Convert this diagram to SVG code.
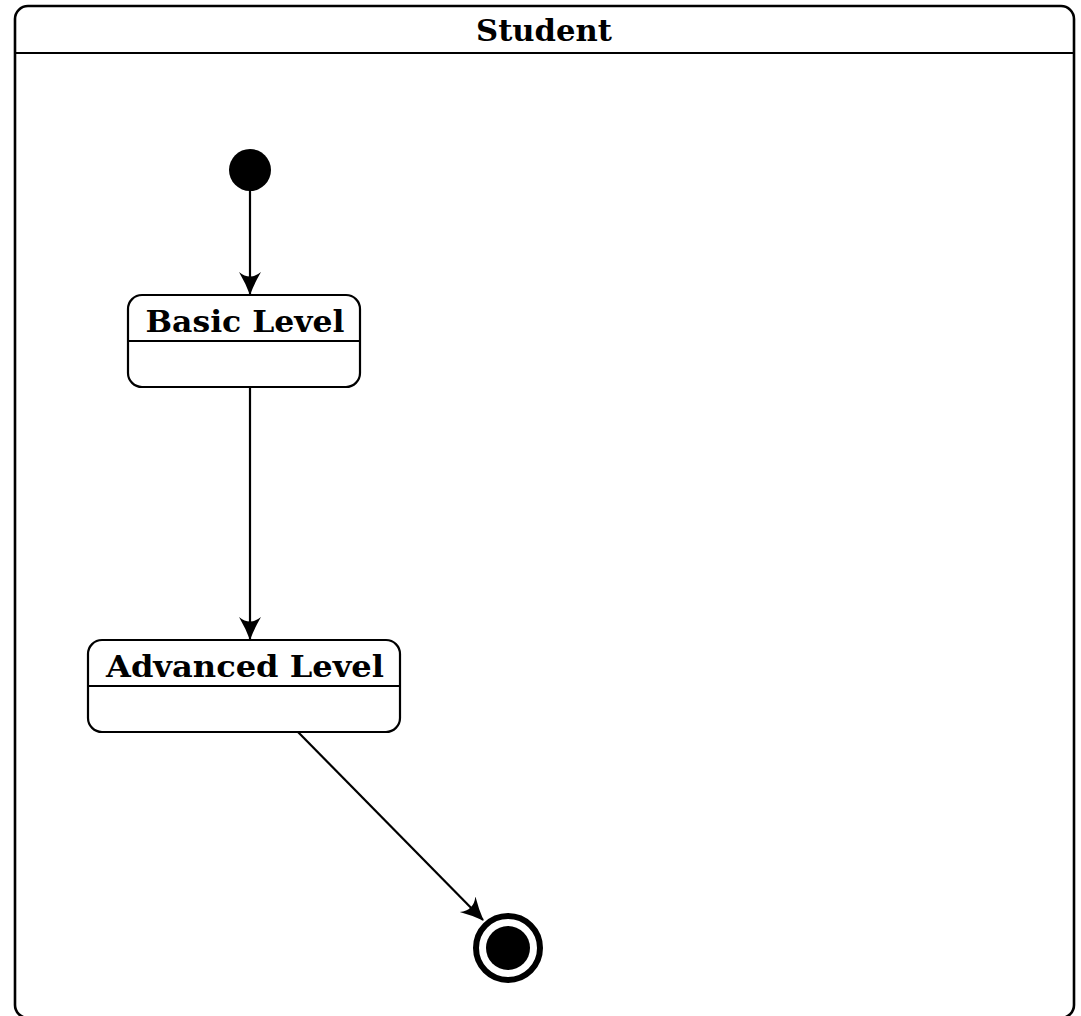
<svg xmlns="http://www.w3.org/2000/svg" width="1081" height="1016" viewBox="0 0 1081 1016">
  <style>
    .frame { fill: #fff; stroke: #000; stroke-width: 2.6; }
    .state { fill: #fff; stroke: #000; stroke-width: 2.2; }
    .sep { stroke: #000; stroke-width: 2.2; }
    .label { font-family: "DejaVu Serif", "Liberation Serif", serif; font-weight: bold; font-size: 30px; fill: #000; text-anchor: middle; }
    .edge { fill: none; stroke: #000; stroke-width: 2.2; }
  </style>
  <defs>
    <!-- barbed stealth-style arrowhead -->
    <marker id="arrow" viewBox="0 0 24 22" refX="23" refY="11" markerWidth="24" markerHeight="22" markerUnits="userSpaceOnUse" orient="auto">
      <path d="M24,11 Q13,7 1,0 Q10,11 1,22 Q13,15 24,11 Z" fill="#000"/>
    </marker>
  </defs>

  <!-- composite state frame -->
  <g id="student">
    <rect class="frame" x="15" y="6" width="1059" height="1012" rx="13" ry="13"/>
    <line class="sep" x1="15" y1="53" x2="1074" y2="53" stroke-width="2.6"/>
    <text class="label" x="544" y="41" textLength="136" lengthAdjust="spacingAndGlyphs">Student</text>
  </g>

  <!-- initial pseudo-state -->
  <g id="initial">
    <circle cx="250" cy="170" r="21" fill="#000"/>
  </g>

  <g id="basic-level">
    <rect class="state" x="128" y="295" width="232" height="92" rx="14" ry="14"/>
    <line class="sep" x1="128" y1="341" x2="360" y2="341"/>
    <text class="label" x="245" y="332" textLength="199" lengthAdjust="spacingAndGlyphs">Basic Level</text>
  </g>

  <g id="advanced-level">
    <rect class="state" x="88" y="640" width="312" height="92" rx="14" ry="14"/>
    <line class="sep" x1="88" y1="686" x2="400" y2="686"/>
    <text class="label" x="245" y="677" textLength="278" lengthAdjust="spacingAndGlyphs">Advanced Level</text>
  </g>

  <!-- final state -->
  <g id="final">
    <circle cx="508" cy="948" r="32" fill="#fff" stroke="#000" stroke-width="6"/>
    <circle cx="508" cy="948" r="22" fill="#000"/>
  </g>

  <g id="connectors">
    <line class="edge" x1="250" y1="191" x2="250" y2="294" marker-end="url(#arrow)"/>
    <line class="edge" x1="250" y1="387" x2="250" y2="639" marker-end="url(#arrow)"/>
    <line class="edge" x1="298" y1="732" x2="483" y2="920" marker-end="url(#arrow)"/>
  </g>
</svg>
